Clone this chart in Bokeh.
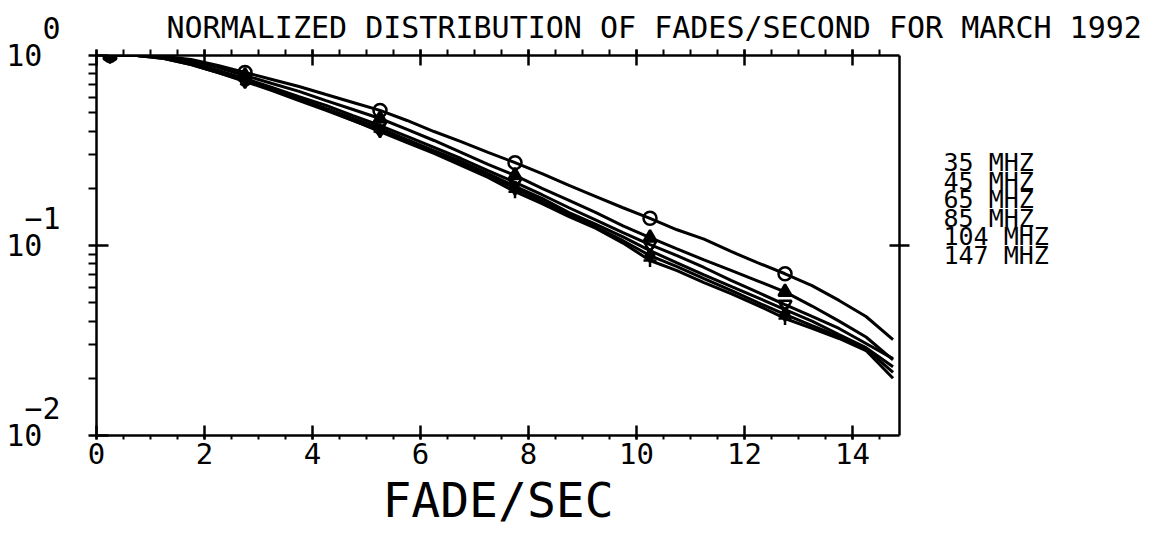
import numpy as np
from bokeh.plotting import figure
from bokeh.models import LinearAxis, LogAxis, FixedTicker, Title
from bokeh.embed import file_html
from bokeh.resources import INLINE

# ---------------- data ----------------
fade_sec = [0.25, 0.75, 1.25, 1.75, 2.25, 2.75, 3.25, 3.75, 4.25, 4.75,
            5.25, 5.75, 6.25, 6.75, 7.25, 7.75, 8.25, 8.75, 9.25, 9.75,
            10.25, 10.75, 11.25, 11.75, 12.25, 12.75, 13.25, 13.75, 14.25, 14.75]

mhz35 = [1.0, 1.0, 0.988, 0.953, 0.886, 0.814, 0.748, 0.687, 0.623, 0.566,
         0.514, 0.455, 0.398, 0.352, 0.309, 0.273, 0.239, 0.207, 0.181, 0.158,
         0.139, 0.121, 0.108, 0.093, 0.081, 0.071, 0.0615, 0.0514, 0.0423, 0.032]
mhz45 = [1.0, 1.0, 0.988, 0.941, 0.865, 0.785, 0.712, 0.647, 0.579, 0.520,
         0.466, 0.408, 0.357, 0.309, 0.267, 0.234, 0.200, 0.173, 0.149, 0.127,
         0.110, 0.096, 0.084, 0.074, 0.065, 0.057, 0.048, 0.040, 0.033, 0.025]
mhz65 = [1.0, 1.0, 0.976, 0.919, 0.834, 0.757, 0.679, 0.608, 0.546, 0.483,
         0.428, 0.375, 0.328, 0.287, 0.248, 0.215, 0.185, 0.158, 0.136, 0.117,
         0.101, 0.0885, 0.0766, 0.0655, 0.0566, 0.0489, 0.0423, 0.0366, 0.0305, 0.0254]
mhz85 = [1.0, 1.0, 0.976, 0.908, 0.824, 0.738, 0.662, 0.594, 0.526, 0.466,
         0.413, 0.361, 0.316, 0.277, 0.239, 0.205, 0.177, 0.149, 0.129, 0.111,
         0.094, 0.081, 0.070, 0.061, 0.053, 0.046, 0.040, 0.034, 0.029, 0.023]
mhz104 = [1.0, 1.0, 0.964, 0.897, 0.814, 0.730, 0.654, 0.579, 0.514, 0.455,
          0.403, 0.352, 0.309, 0.270, 0.234, 0.200, 0.171, 0.146, 0.125, 0.106,
          0.0885, 0.0775, 0.067, 0.058, 0.050, 0.0434, 0.0379, 0.0332, 0.0287, 0.0215]
mhz147 = [1.0, 1.0, 0.964, 0.897, 0.814, 0.738, 0.662, 0.587, 0.520, 0.455,
          0.398, 0.348, 0.305, 0.264, 0.228, 0.192, 0.166, 0.142, 0.123, 0.103,
          0.0834, 0.0738, 0.0638, 0.0558, 0.0483, 0.0413, 0.0366, 0.0324, 0.028, 0.020]

series_names = ["35 MHZ", "45 MHZ", "65 MHZ", "85 MHZ", "104 MHZ", "147 MHZ"]
series_vals = [mhz35, mhz45, mhz65, mhz85, mhz104, mhz147]
x_ticks = [0, 2, 4, 6, 8, 10, 12, 14]
x_tick_labels = ["0", "2", "4", "6", "8", "10", "12", "14"]
y_ticks = [1.0, 0.1, 0.01]
y_exponents = ["0", "\u22121", "\u22122"]
title_text = "NORMALIZED DISTRIBUTION OF FADES/SECOND FOR MARCH 1992"
x_title = "FADE/SEC"

# ---------------- styling ----------------
FONT = "DejaVu Sans Mono"
NB = "\u00a0"
markers = ["circle", "triangle", "inverted_triangle", "x", "diamond", "cross"]
marker_fill = [None, "black", None, "black", "black", "black"]
marker_every = 5

W, H = 1166, 530
X0, X1 = 0.0, 14.87
FL, FR, FT, FB = 96.0, 899.0, 55.0, 435.0
p = figure(width=W, height=H, x_range=(X0, X1), y_range=(0.01, 1.0),
           y_axis_type="log", output_backend="svg", toolbar_location=None,
           min_border_left=int(FL), min_border_right=int(W - FR),
           min_border_top=int(FT), min_border_bottom=int(H - FB))
p.outline_line_color = None
p.xgrid.visible = False
p.ygrid.visible = False
p.background_fill_color = "white"
p.border_fill_color = "white"

PX_PER_DEC = (FB - FT) / 2.0
def dy(py):
    return 10 ** (-(py - FT) / PX_PER_DEC)

x_minor = [i * 0.5 for i in range(30)]
y_minor = [m * 10.0 ** e for e in (-2, -1) for m in range(2, 10)]

def style_axis(ax, tin, tout, mtin, mtout, labels=False):
    ax.axis_line_width = 2.5
    ax.axis_line_color = "black"
    ax.major_tick_line_width = 2.5
    ax.minor_tick_line_width = 2
    ax.major_tick_line_color = "black"
    ax.minor_tick_line_color = "black"
    ax.major_tick_in = tin
    ax.major_tick_out = tout
    ax.minor_tick_in = mtin
    ax.minor_tick_out = mtout
    ax.major_label_text_font = FONT
    ax.major_label_text_color = "black"
    if not labels:
        ax.major_label_text_color = None
        ax.major_label_text_font_size = "1px"
        ax.major_label_standoff = 0

# bottom axis with tick labels and axis title
bx = p.xaxis[0]
bx.ticker = FixedTicker(ticks=x_ticks, minor_ticks=x_minor)
bx.major_label_overrides = {t: lab for t, lab in zip(x_ticks, x_tick_labels)}
style_axis(bx, 10, 4, 0, 4, labels=True)
bx.major_label_text_font_size = "29px"
bx.major_label_standoff = 3
bx.axis_label = x_title
bx.axis_label_text_font = FONT
bx.axis_label_text_font_size = "48px"
bx.axis_label_text_font_style = "normal"
bx.axis_label_text_color = "black"
bx.axis_label_standoff = 5

# left axis: decade labels "10" with exponent above (multi-line mono text)
ly = p.yaxis[0]
ly.ticker = FixedTicker(ticks=y_ticks, minor_ticks=y_minor)
style_axis(ly, 12, 8, 0, 8, labels=True)
ly.major_label_text_font_size = "30px"
ly.major_label_text_line_height = 0.78
ly.major_label_standoff = 28
ly.major_label_overrides = {
    t: (NB * (3 - len(e)) + e) + "\n" + "10" + NB + "\n" + NB
    for t, e in zip(y_ticks, y_exponents)
}

# top axis
tx = LinearAxis(ticker=FixedTicker(ticks=x_ticks, minor_ticks=x_minor))
style_axis(tx, 10, 6, 0, 6)
p.add_layout(tx, "above")

# right axis: cross tick at 10^-1 and legend texts as its labels
leg_y = [round(dy(162 + 18.6 * i), 6) for i in range(len(series_names))]
ry = LogAxis(ticker=FixedTicker(ticks=leg_y, minor_ticks=[0.1]))
style_axis(ry, 0, 0, 10, 10, labels=True)
ry.minor_tick_line_width = 2.5
ry.major_label_overrides = {v: n for v, n in zip(leg_y, series_names)}
ry.major_label_text_font_size = "25px"
ry.major_label_standoff = 34
p.add_layout(ry, "right")

# title
ttl = Title(text=title_text, align="left", offset=70, text_font=FONT,
            text_font_size="30px", text_font_style="normal", text_color="black",
            standoff=10)
p.add_layout(ttl, "above")

# ---------------- data lines ----------------
for vals, mk, fc in zip(series_vals, markers, marker_fill):
    p.line(fade_sec, vals, line_color="black", line_width=3)
    p.scatter(fade_sec[::marker_every], vals[::marker_every], marker=mk, size=13,
              line_color="black", line_width=2.5, fill_color=fc)

open("out.html", "w").write(file_html(p, INLINE))
